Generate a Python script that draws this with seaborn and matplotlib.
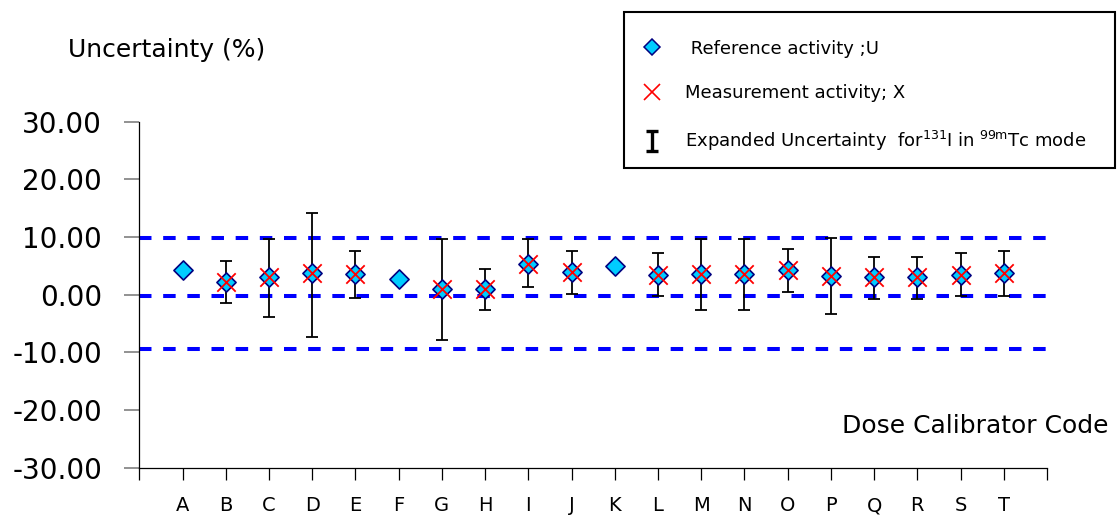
import numpy as np
import pandas as pd
import matplotlib
matplotlib.use("Agg")
import matplotlib.pyplot as plt
from matplotlib.lines import Line2D
from matplotlib.patches import Rectangle
from matplotlib.path import Path
import seaborn as sns

# ---- data -------------------------------------------------------------
codes = list("ABCDEFGHIJKLMNOPQRST")
reference = [4.25, 2.15, 3.0, 3.7, 3.55, 2.8, 1.0, 1.0, 5.4, 3.85,
             4.95, 3.4, 3.65, 3.55, 4.25, 3.3, 3.1, 3.1, 3.4, 3.8]
measurement = [np.nan, 2.15, 3.0, 3.7, 3.55, np.nan, 1.0, 1.0, 5.4, 3.85,
               np.nan, 3.4, 3.65, 3.55, 4.25, 3.3, 3.1, 3.1, 3.4, 3.8]
unc_upper = [np.nan, 5.8, 9.7, 14.2, 7.6, np.nan, 9.7, 4.5, 9.6, 7.6,
             np.nan, 7.2, 9.6, 9.6, 8.0, 9.85, 6.6, 6.6, 7.3, 7.5]
unc_lower = [np.nan, -1.5, -3.8, -7.3, -0.6, np.nan, -7.9, -2.7, 1.35, 0.2,
             np.nan, -0.3, -2.6, -2.7, 0.4, -3.4, -0.8, -0.8, -0.2, -0.2]
limit_lines = [9.8, -0.2, -9.5]
y_ticks = [30, 20, 10, 0, -10, -20, -30]
y_tick_labels = ["30.00", "20.00", "10.00", "0.00", "-10.00", "-20.00", "-30.00"]

label_ref = " Reference activity ;U"
label_meas = "Measurement activity; X"
label_unc = r"Expanded Uncertainty  for$^{\mathregular{131}}$I in $^{\mathregular{99m}}$Tc mode"
y_title = "Uncertainty (%)"
x_title = "Dose Calibrator Code"

# ---- styling ----------------------------------------------------------
sns.set_style("white")
plt.rcParams["font.family"] = ["DejaVu Sans"]
plt.rcParams["axes.unicode_minus"] = False
plt.rcParams["text.color"] = "black"
plt.rcParams["xtick.labelcolor"] = "black"
plt.rcParams["ytick.labelcolor"] = "black"

df = pd.DataFrame({
    "pos": np.arange(len(codes)),
    "code": codes,
    "reference": reference,
    "measurement": measurement,
    "upper": unc_upper,
    "lower": unc_lower,
})

fig = plt.figure(figsize=(11.17, 5.18), dpi=100)
ax = fig.add_axes([0.1247, 0.0971, 0.8126, 0.668])

# limit lines
for yv in limit_lines:
    ax.axhline(yv, color="#0000FF", lw=2.9, linestyle=(0, (3.1, 2.9)), zorder=1)

# error bars
eb = df.dropna(subset=["measurement"])
yerr = np.vstack([eb["measurement"] - eb["lower"], eb["upper"] - eb["measurement"]])
ax.errorbar(eb["pos"], eb["measurement"], yerr=yerr, fmt="none", ecolor="black",
            elinewidth=1.3, capsize=4.3, capthick=1.3, zorder=2)

# reference diamonds
sns.scatterplot(data=df, x="pos", y="reference", marker="D", s=95,
                color="#00CCFF", edgecolor="#000080", linewidth=1.2,
                legend=False, ax=ax, zorder=3)
# measurement crosses
sns.scatterplot(data=df.dropna(subset=["measurement"]), x="pos", y="measurement",
                marker="x", s=175, color="#FF0000", linewidth=1.3,
                legend=False, ax=ax, zorder=4)

ax.set_xlim(-1, 20)
ax.set_ylim(-30, 30)
ax.set_xticks(np.arange(-1, 21))
ax.set_xticklabels([""] + codes + [""])
ax.set_yticks(y_ticks)
ax.set_yticklabels(y_tick_labels)
ax.set_xlabel("")
ax.set_ylabel("")

for s in ["top", "right"]:
    ax.spines[s].set_visible(False)
for s in ["left", "bottom"]:
    ax.spines[s].set_color("black")
    ax.spines[s].set_linewidth(0.9)

ax.tick_params(axis="y", direction="out", length=10.8, width=1.2, color="#7f7f7f",
               labelsize=20, pad=16, left=True, labelcolor="black")
ax.tick_params(axis="x", direction="out", length=8.6, width=0.9, color="black",
               labelsize=14, pad=12, bottom=True, labelcolor="black")

fig.text(68 / 1117, 1 - 56.7 / 518, y_title, fontsize=18, va="baseline", ha="left")
fig.text(842 / 1117, 1 - 432.7 / 518, x_title, fontsize=18, va="baseline", ha="left")

# legend frame
fig.add_artist(Rectangle((624 / 1117, 1 - 168 / 518), (1115 - 624) / 1117, 156 / 518,
                         transform=fig.transFigure, fill=False, ec="black", lw=1.5))

# legend
ibeam = Path([(-0.3, 0.5), (0.3, 0.5), (0, 0.5), (0, -0.5), (-0.3, -0.5), (0.3, -0.5)],
             [Path.MOVETO, Path.LINETO, Path.MOVETO, Path.LINETO, Path.MOVETO, Path.LINETO])
handles = [
    Line2D([], [], ls="none", marker="D", ms=8.5, mfc="#00CCFF", mec="#000080", mew=1.1),
    Line2D([], [], ls="none", marker="x", ms=12, color="#FF0000", mew=1.2),
    Line2D([], [], ls="none", marker=ibeam, ms=15, mfc="none", mec="black", mew=2.4),
]
leg = ax.legend(handles, [label_ref, label_meas, label_unc],
                loc="upper left", bbox_to_anchor=(645.7 / 1117, 1 - 39.5 / 518),
                bbox_transform=fig.transFigure, borderaxespad=0, fontsize=13,
                frameon=False, borderpad=0, labelspacing=1.49, handlelength=0.7,
                handletextpad=1.48, numpoints=1)

fig.savefig("out.png", dpi=100)
